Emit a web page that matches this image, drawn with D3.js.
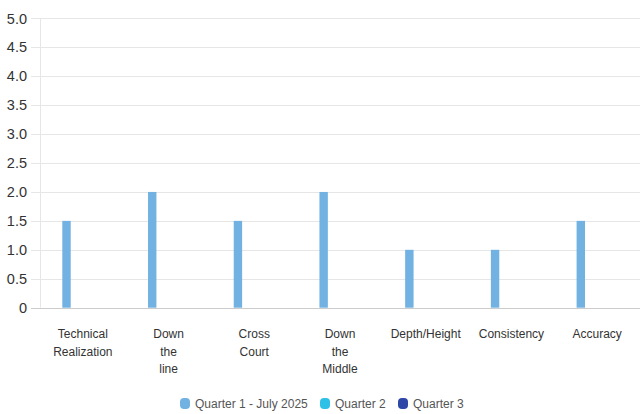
<!DOCTYPE html>
<html><head><meta charset="utf-8">
<script src="https://cdn.jsdelivr.net/npm/d3@7"></script>
<style>html,body{margin:0;padding:0;background:#fff;}svg{display:block;font-family:"Liberation Sans",Arial,sans-serif;}</style>
</head><body><svg id="c" width="640" height="414"></svg>
<script>
const categories = ["Technical Realization","Down the line","Cross Court","Down the Middle","Depth/Height","Consistency","Accuracy"];
const categoryLabels = [["Technical","Realization"],["Down","the","line"],["Cross","Court"],["Down","the","Middle"],["Depth/Height"],["Consistency"],["Accuracy"]];
const seriesNames = ["Quarter 1 - July 2025","Quarter 2","Quarter 3"];
const seriesColors = ["#72b2e2","#2ec0e6","#2f47a6"];
const q1 = [1.5,2,1.5,2,1,1,1.5];
const q2 = [null,null,null,null,null,null,null];
const q3 = [null,null,null,null,null,null,null];
const seriesValues = [q1,q2,q3];
const yTicks = [0,0.5,1,1.5,2,2.5,3,3.5,4,4.5,5];

const svg = d3.select("#c");
const mLeft = 40, mRight = 640, mTop = 18.3, mBottom = 307.7;
const x = d3.scaleBand().domain(categories).range([mLeft,mRight]);
const xi = d3.scaleBand().domain(seriesNames).range([0,x.bandwidth()]).paddingInner(0.486).paddingOuter(1.364);
const y = d3.scaleLinear().domain([0,5]).range([mBottom,mTop]);

// grid
svg.append("g").selectAll("line").data(yTicks.filter(d=>d>0)).join("line")
  .attr("x1",31).attr("x2",mRight).attr("y1",d=>Math.round(y(d))+0.5).attr("y2",d=>Math.round(y(d))+0.5)
  .attr("stroke","#e6e6e6").attr("stroke-width",1);
// y axis line
svg.append("line").attr("x1",mLeft+0.5).attr("x2",mLeft+0.5).attr("y1",mTop).attr("y2",mBottom)
  .attr("stroke","#e6e6e6");
// x axis line
svg.append("line").attr("x1",31).attr("x2",mRight).attr("y1",Math.round(mBottom)+0.5).attr("y2",Math.round(mBottom)+0.5)
  .attr("stroke","#cccccc");

// y labels
svg.append("g").selectAll("text").data(yTicks).join("text")
  .attr("x",27).attr("y",d=>y(d)).attr("dy","0.36em").attr("text-anchor","end")
  .attr("font-size",14.5).attr("fill","#333")
  .text(d=>d===0?"0":d.toFixed(1));

// bars
seriesValues.forEach((vals,si)=>{
  svg.append("g").selectAll("rect").data(vals.map((v,i)=>({v,c:categories[i]})).filter(d=>d.v!=null)).join("rect")
    .attr("x",d=>x(d.c)+xi(seriesNames[si])).attr("width",xi.bandwidth())
    .attr("y",d=>y(d.v)).attr("height",d=>y(0)-y(d.v))
    .attr("fill",seriesColors[si]);
});

// x labels
const xl = svg.append("g");
categories.forEach((c,i)=>{
  const t = xl.append("text").attr("x",x(c)+x.bandwidth()/2).attr("y",338)
    .attr("text-anchor","middle").attr("font-size",12).attr("fill","#333");
  categoryLabels[i].forEach((ln,j)=>{
    t.append("tspan").attr("x",x(c)+x.bandwidth()/2).attr("y",338+j*17.5).text(ln);
  });
});

// legend
const legX = [180,320,398];
const lg = svg.append("g");
seriesNames.forEach((n,i)=>{
  lg.append("rect").attr("x",legX[i]).attr("y",398).attr("width",10).attr("height",11).attr("rx",4)
    .attr("fill",seriesColors[i]);
  lg.append("text").attr("x",legX[i]+15).attr("y",408).attr("font-size",12).attr("fill","#555").text(n);
});
</script></body></html>
